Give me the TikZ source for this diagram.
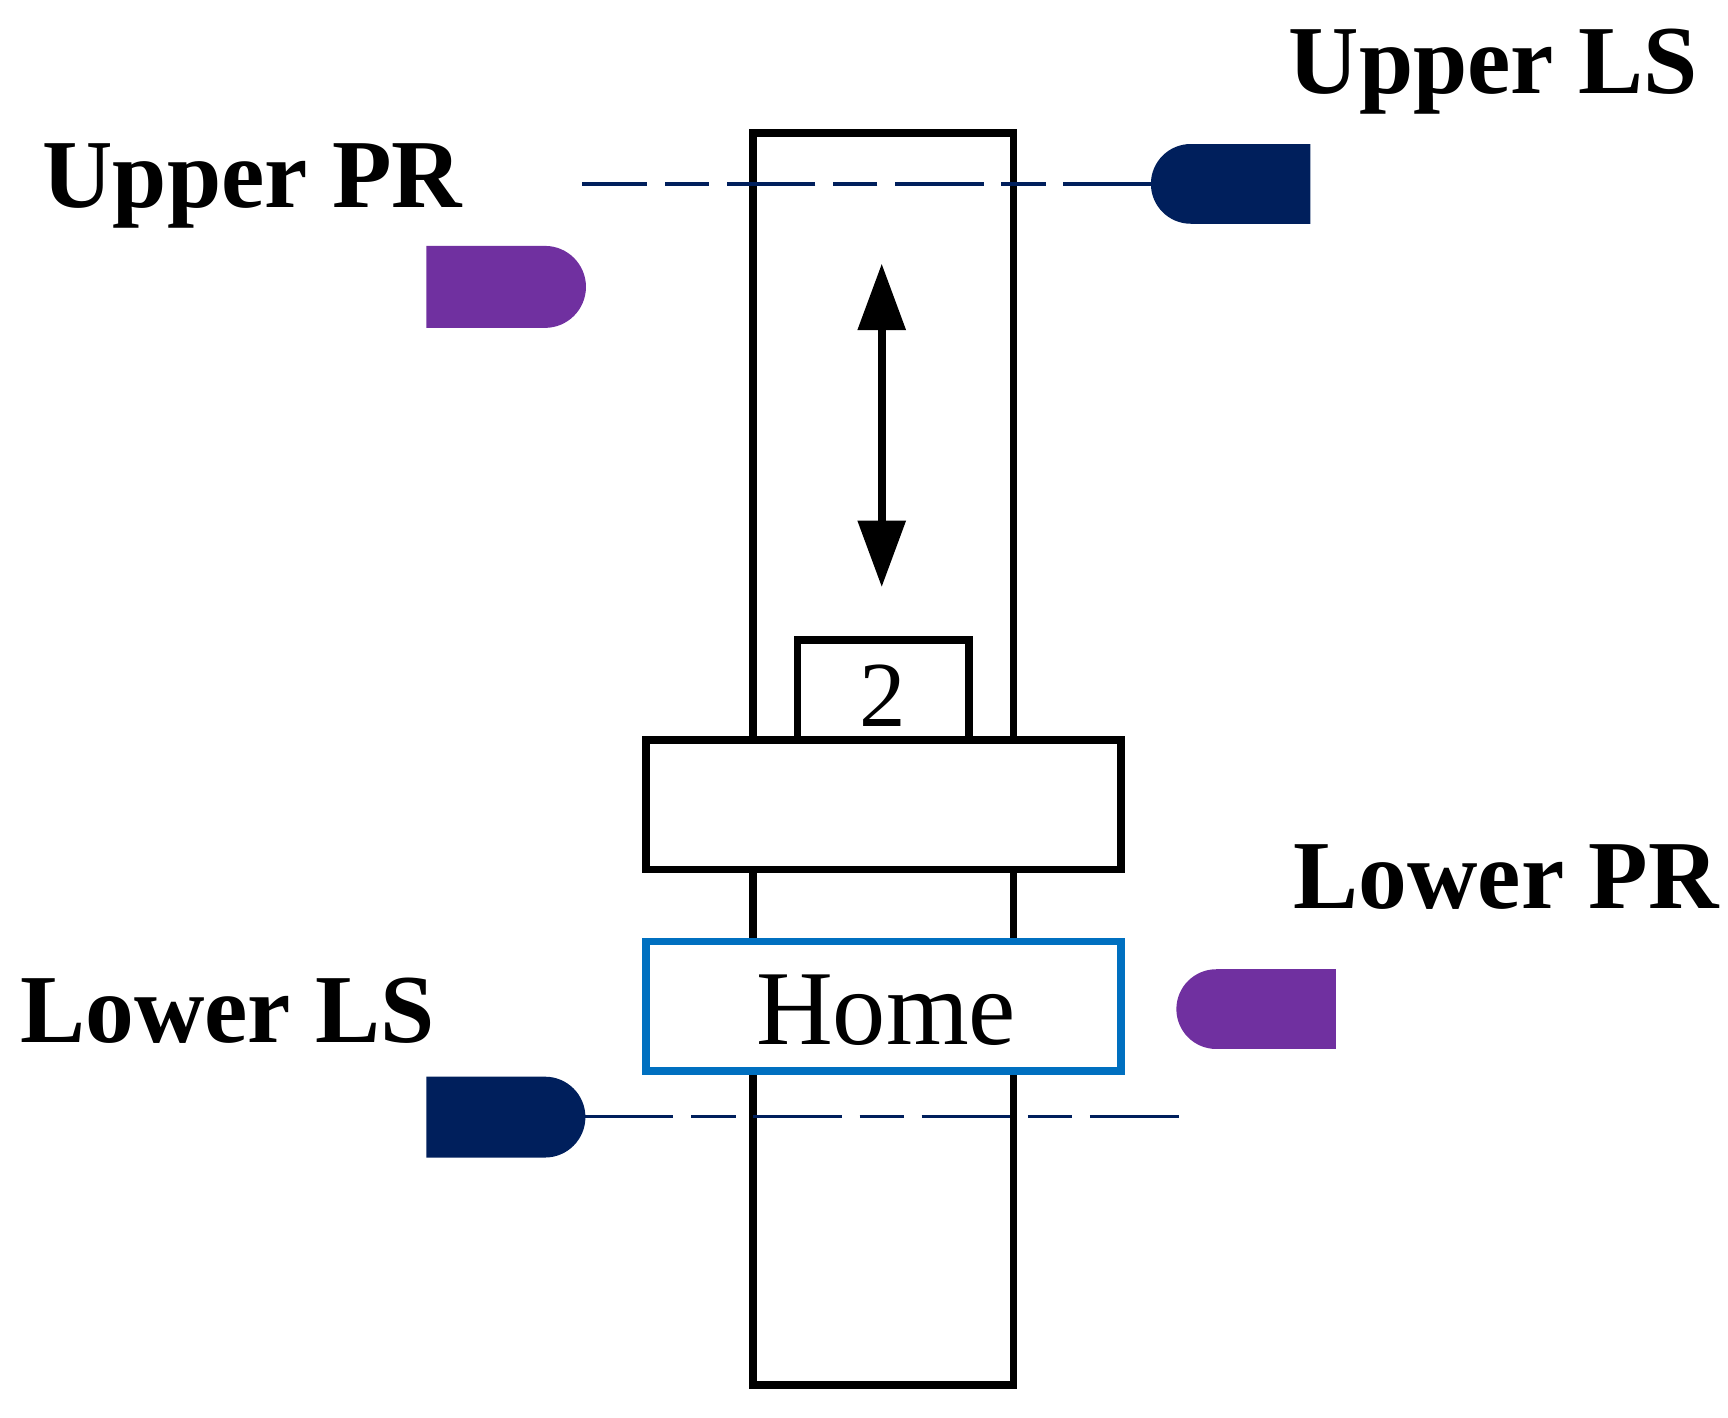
\documentclass[tikz,border=0pt]{standalone}
\usepackage{fontspec}
\setmainfont{Liberation Serif}
\usetikzlibrary{arrows.meta}
\definecolor{navy}{HTML}{001F5C}
\definecolor{purp}{HTML}{7030A0}
\definecolor{homeblue}{HTML}{0070C0}
\begin{document}
\begin{tikzpicture}[x=0.5pt,y=-0.5pt,
  part/.style={draw=black,line width=3.5pt,fill=white},
  lbl/.style={font=\fontsize{44}{44}\selectfont\bfseries,inner sep=0pt},
  axis/.style={navy,line width=1.6pt,dash pattern=on 40pt off 8pt on 20pt off 8pt}]
\useasboundingbox (0,0) rectangle (1560,1280);
% rail
\draw[part] (680,120) rectangle (915,1250);
% carriage, flag and home block
\draw[part] (720,578) rectangle (875,670);
\node[font=\fontsize{42}{42}\selectfont,inner sep=0pt] (two) at (797,628) {2};
\draw[part] (583,668) rectangle (1012,785);
\draw[part,draw=homeblue] (583,850) rectangle (1012,967);
\node[font=\fontsize{48}{48}\selectfont,inner sep=0pt] (home) at (800,912) {Home};
% travel arrow
\coordinate (atop) at (796,238);
\coordinate (abot) at (796,530);
\draw[line width=3.5pt,{Triangle[length=30pt,width=21pt]}-{Triangle[length=30pt,width=21pt]}] (atop) -- (abot);
% sensors
\fill[navy] (1183,130) -- (1075,130) arc[start angle=-90,end angle=-270,radius=36] -- (1183,202) -- cycle;
\fill[purp] (385,222) -- (492,222) arc[start angle=-90,end angle=90,radius=37] -- (385,296) -- cycle;
\fill[purp] (1206,875) -- (1098,875) arc[start angle=-90,end angle=-270,radius=36] -- (1206,947) -- cycle;
\fill[navy] (385,972) -- (492,972) arc[start angle=-90,end angle=90,radius=36.5] -- (385,1045) -- cycle;
\coordinate (uls) at (1040,166);
\coordinate (ulsend) at (525,166);
\coordinate (lls) at (528,1008);
\coordinate (llsend) at (1072,1008);
\draw[axis] (uls) -- (ulsend);
\draw[axis] (lls) -- (llsend);
% labels
\node[lbl,anchor=east] (tUL) at (1533,65) {Upper LS};
\node[lbl,anchor=west] (tUP) at (38,168) {Upper PR};
\node[lbl,anchor=east] (tLP) at (1552,792) {Lower PR};
\node[lbl,anchor=west] (tLL) at (18,912) {Lower LS};
\end{tikzpicture}
\end{document}
